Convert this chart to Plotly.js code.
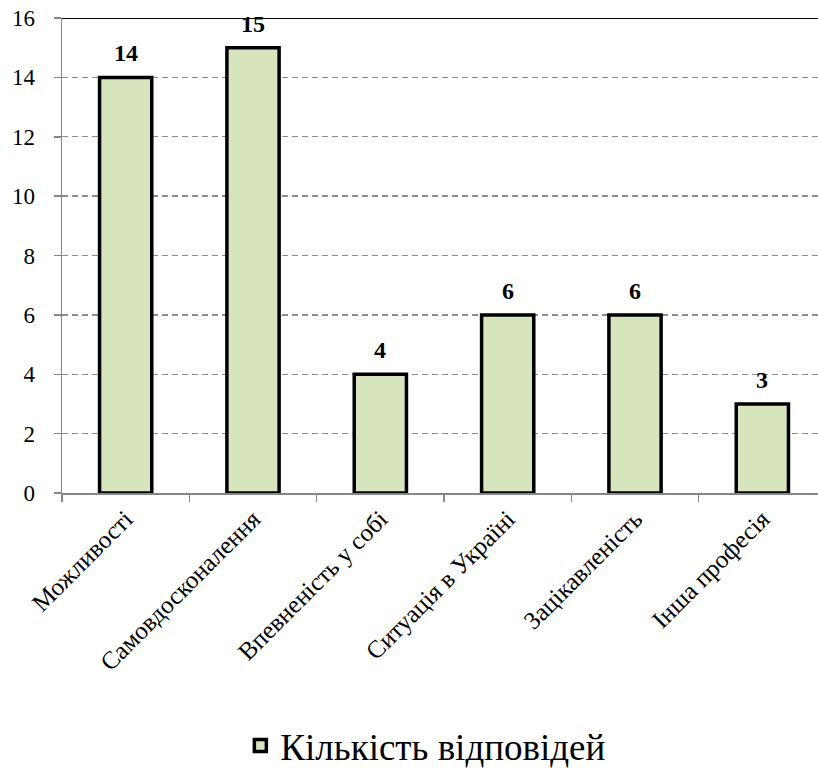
<!DOCTYPE html>
<html><head><meta charset="utf-8">
<script src="https://cdn.plot.ly/plotly-3.0.1.min.js"></script>
<style>body{margin:0;background:#fff}#c{width:818px;height:769px}</style>
</head><body><div id="c"></div>
<script>
const categories = ["Можливості","Самовдосконалення","Впевненість у собі","Ситуація в Україні","Зацікавленість","Інша професія"];
const values = [14, 15, 4, 6, 6, 3];
const seriesName = "Кількість відповідей";
const SERIF = 'Liberation Serif';

const trace = {
  type: 'bar', x: categories, y: values, name: seriesName,
  marker: {color: '#d7e4bd', line: {color: '#000', width: 3.5}},
  showlegend: true
};
const labels = categories.map((c, i) => ({
  x: c, y: values[i], xref: 'x', yref: 'y', text: String(values[i]),
  showarrow: false, yanchor: 'bottom', yshift: 9,
  font: {family: SERIF, size: 24, color: '#000', weight: 'bold'}
}));
const layout = {
  width: 818, height: 769,
  margin: {l: 62, r: 0, t: 18, b: 276},
  paper_bgcolor: '#fff', plot_bgcolor: '#fff',
  bargap: 0.59,
  font: {family: SERIF, color: '#000'},
  xaxis: {
    range: [-0.5, 5.437], tickangle: -45, tickson: 'boundaries',
    ticks: 'outside', ticklen: 7, tickcolor: '#868686', tickwidth: 1.5,
    showline: true, linecolor: '#868686', linewidth: 1.5,
    tickfont: {family: SERIF, size: 25, color: '#000'},
    fixedrange: true
  },
  yaxis: {
    range: [0, 16], dtick: 2, ticks: 'outside', ticklen: 21, tickcolor: 'rgba(0,0,0,0)',
    showline: true, linecolor: '#868686', linewidth: 1.5,
    showgrid: true, gridcolor: '#8c8c8c', griddash: '6px,4px', gridwidth: 1.3,
    tickfont: {family: SERIF, size: 23, color: '#000'},
    zeroline: false
  },
  yaxis2: {
    overlaying: 'y', matches: 'y', range: [0, 16], dtick: 2, side: 'left',
    ticks: 'outside', ticklen: 7, tickcolor: '#868686', tickwidth: 1.5,
    showticklabels: false, showgrid: false, zeroline: false, showline: false
  },
  annotations: labels,
  shapes: [{type: 'line', xref: 'paper', yref: 'y', x0: 0, x1: 1, y0: 16, y1: 16, line: {color: '#000', width: 2}}],
  showlegend: true,
  legend: {orientation: 'h', x: 0.52, xanchor: 'center', xref: 'container', yanchor: 'middle',
    yref: 'container', font: {family: SERIF, size: 37, color: '#000'}, itemwidth: 30}
};
layout.legend.y = 1 - 746/769;
const tickTrace = {type: 'scatter', x: [categories[0]], y: [values[0]], yaxis: 'y2', mode: 'none', showlegend: false, hoverinfo: 'skip'};
Plotly.newPlot('c', [trace, tickTrace], layout, {displayModeBar: false, staticPlot: true});
</script></body></html>
